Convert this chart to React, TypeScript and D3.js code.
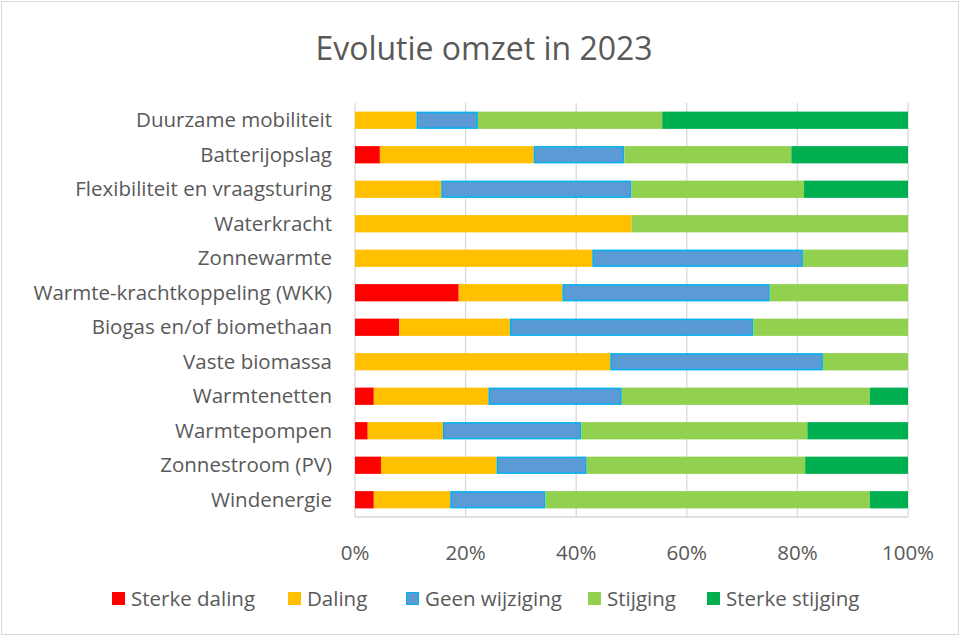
import React from 'react'
import * as d3 from 'd3'

// categories top -> bottom
const categories = [
  'Duurzame mobiliteit',
  'Batterijopslag',
  'Flexibiliteit en vraagsturing',
  'Waterkracht',
  'Zonnewarmte',
  'Warmte-krachtkoppeling (WKK)',
  'Biogas en/of biomethaan',
  'Vaste biomassa',
  'Warmtenetten',
  'Warmtepompen',
  'Zonnestroom (PV)',
  'Windenergie',
]

const seriesNames = ['Sterke daling', 'Daling', 'Geen wijziging', 'Stijging', 'Sterke stijging']

// shares in %, same order as categories
const sterkeDaling = [0, 4.5, 0, 0, 0, 18.75, 8, 0, 3.4, 2.3, 4.7, 3.4]
const daling = [11.1, 27.8, 15.6, 50, 42.9, 18.75, 20, 46.2, 20.7, 13.6, 20.9, 13.8]
const geenWijziging = [11.1, 16.4, 34.4, 0, 38.1, 37.5, 44, 38.5, 24.1, 25, 16.3, 17.2]
const stijging = [33.3, 30.2, 31.2, 50, 19.0, 25, 28, 15.4, 44.8, 40.9, 39.5, 58.6]
const sterkeStijging = [44.4, 21.1, 18.8, 0, 0, 0, 0, 0, 6.9, 18.2, 18.6, 6.9]

const xTicks = [0, 0.2, 0.4, 0.6, 0.8, 1]

const colors = ['#FF0000', '#FFC000', '#5B9BD5', '#92D050', '#00B050']
const strokes = ['#FF0000', '#FFC000', '#00B0F0', '#92D050', '#00B050']

const W = 961, H = 637
const margin = { top: 103, right: 53, bottom: 120, left: 355 }
const font = '"Open Sans", sans-serif'
const textColor = '#595959'

export default function App() {
  const rows = categories.map((c, i) => {
    const vals = [sterkeDaling[i], daling[i], geenWijziging[i], stijging[i], sterkeStijging[i]]
    const total = d3.sum(vals)
    const r: any = { cat: c }
    seriesNames.forEach((s, j) => { r[s] = vals[j] / total })
    return r
  })
  const stacked = d3.stack().keys(seriesNames)(rows)

  const x = d3.scaleLinear().domain([0, 1]).range([margin.left, W - margin.right])
  const y = d3.scaleBand().domain(categories).range([margin.top, H - margin.bottom]).paddingInner(0.5).paddingOuter(0.25)

  const legendX = [112, 288, 406, 588, 707]

  return (
    <svg width={W} height={H} style={{ position: 'fixed', left: 0, top: 0, background: '#fff' }} fontFamily={font}>
      <rect x={1.5} y={1.5} width={W - 4} height={H - 4} fill="#fff" stroke="#d9d9d9" />
      <text x={484} y={60} textAnchor="middle" fontSize={32} fill={textColor}>Evolutie omzet in 2023</text>

      {/* grid */}
      <g>
        {xTicks.map(t => (
          <line key={t} x1={x(t)} x2={x(t)} y1={margin.top} y2={H - margin.bottom} stroke="#d9d9d9" strokeWidth={1.3} />
        ))}
        <line x1={x(0)} x2={x(1)} y1={H - margin.bottom} y2={H - margin.bottom} stroke="#d9d9d9" strokeWidth={1.3} />
      </g>

      {/* bars */}
      {stacked.map((layer, si) => (
        <g key={layer.key}>
          {layer.map((d: any, i) => {
            const w = x(d[1]) - x(d[0])
            if (w <= 0) return null
            const blue = si === 2
            return (
              <rect key={i}
                x={x(d[0]) + (blue ? 0.75 : 0)}
                y={(y(d.data.cat) ?? 0) + (blue ? 0.75 : 0)}
                width={w - (blue ? 1.5 : 0)}
                height={y.bandwidth() - (blue ? 1.5 : 0)}
                fill={colors[si]}
                stroke={blue ? strokes[si] : 'none'}
                strokeWidth={blue ? 1.5 : 0} />
            )
          })}
        </g>
      ))}

      {/* category labels */}
      {categories.map(c => (
        <text key={c} x={margin.left - 23} y={(y(c) ?? 0) + y.bandwidth() / 2} dy="0.35em" textAnchor="end" fontSize={20.5} fill={textColor}>{c}</text>
      ))}

      {/* x tick labels */}
      {xTicks.map(t => (
        <text key={t} x={x(t)} y={553} dy="0.35em" textAnchor="middle" fontSize={20.5} fill={textColor}>{d3.format('.0%')(t)}</text>
      ))}

      {/* legend */}
      {seriesNames.map((s, i) => (
        <g key={s} transform={`translate(${legendX[i]},599)`}>
          <rect x={0.5} y={-6.5} width={12} height={12} fill={colors[i]} stroke={strokes[i]} strokeWidth={1} />
          <text x={19} y={0} dy="0.35em" fontSize={20.5} fill={textColor}>{s}</text>
        </g>
      ))}
    </svg>
  )
}
